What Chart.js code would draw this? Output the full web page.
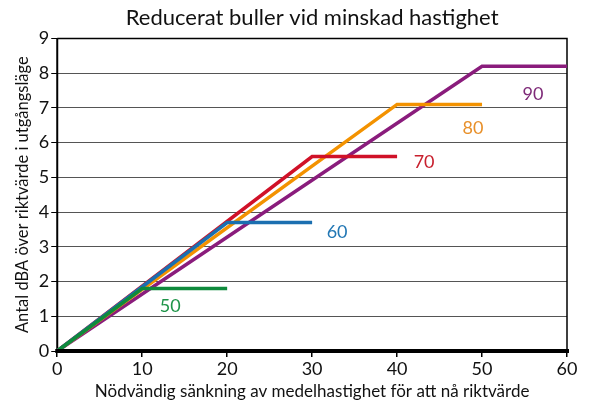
<!DOCTYPE html>
<html>
<head>
<meta charset="utf-8">
<script src="https://cdn.jsdelivr.net/npm/chart.js@4"></script>
<style>
  body { margin: 0; background: #fff; }
  #wrap { width: 589px; height: 410px; }
</style>
</head>
<body>
<div id="wrap"><canvas id="chart" width="589" height="410"></canvas></div>
<script>
// Data
const speeds = ['50', '60', '70', '80', '90'];
const xBreak = [10, 20, 30, 40, 50];      // reduction where the line flattens
const xEnd = [20, 30, 40, 50, 60];        // end of the flat part
const dbaMax = [1.8, 3.7, 5.6, 7.1, 8.2]; // dBA at the flat part
const xTicks = [0, 10, 20, 30, 40, 50, 60];
const yTicks = [0, 1, 2, 3, 4, 5, 6, 7, 8, 9];

// Styling
const colors = ['#0f8a3c', '#1b6fb0', '#d01128', '#f39200', '#8a1c7c'];
const labelColors = ['#1e9448', '#2277b4', '#c8202e', '#e8902a', '#7e2a78'];
// label offsets in pixels from the end of each line
const labelOffsets = [[-57, 18], [25, 10], [27, 6], [-9, 24], [-34, 28]];
const FONT = 'Lato, "Open Sans", sans-serif';

const datasets = speeds.map((s, i) => ({
    label: s,
    data: [{ x: 0, y: 0 }, { x: xBreak[i], y: dbaMax[i] }, { x: xEnd[i], y: dbaMax[i] }],
    borderColor: colors[i],
    borderWidth: 3.5,
    pointRadius: 0,
    tension: 0,
    fill: false,
    clip: false
}));

// Writes the speed label near the end of each line
const lineLabels = {
    id: 'lineLabels',
    afterDatasetsDraw(chart) {
        const ctx = chart.ctx;
        const xs = chart.scales.x, ys = chart.scales.y;
        ctx.save();
        ctx.font = '18px ' + FONT;
        ctx.textAlign = 'center';
        ctx.textBaseline = 'middle';
        speeds.forEach((s, i) => {
            const px = xs.getPixelForValue(xEnd[i]) + labelOffsets[i][0];
            const py = ys.getPixelForValue(dbaMax[i]) + labelOffsets[i][1];
            ctx.fillStyle = labelColors[i];
            ctx.fillText(s, px, py);
        });
        ctx.restore();
    }
};

// Frame: thin top/right border, thick bottom axis
const frame = {
    id: 'frame',
    beforeDatasetsDraw(chart) {
        const a = chart.chartArea, ctx = chart.ctx;
        ctx.save();
        ctx.strokeStyle = '#000';
        ctx.lineWidth = 1.5;
        ctx.beginPath();
        ctx.moveTo(a.left, a.top);
        ctx.lineTo(a.right, a.top);
        ctx.lineTo(a.right, a.bottom);
        ctx.stroke();
        ctx.lineWidth = 2;
        ctx.beginPath();
        ctx.moveTo(a.left, a.top);
        ctx.lineTo(a.left, a.bottom);
        ctx.stroke();
        ctx.restore();
    },
    afterDatasetsDraw(chart) {
        const a = chart.chartArea, ctx = chart.ctx;
        ctx.save();
        ctx.strokeStyle = '#000';
        ctx.lineWidth = 4;
        ctx.beginPath();
        ctx.moveTo(a.left - 2, a.bottom);
        ctx.lineTo(a.right + 2, a.bottom);
        ctx.stroke();
        ctx.restore();
    }
};

new Chart(document.getElementById('chart'), {
    type: 'line',
    data: { datasets: datasets },
    options: {
        responsive: false,
        animation: false,
        devicePixelRatio: 1,
        layout: { padding: { top: 5, right: 22, bottom: 8, left: 13 } },
        plugins: {
            legend: { display: false },
            tooltip: { enabled: false },
            title: {
                display: true,
                fullSize: false,
                text: 'Reducerat buller vid minskad hastighet',
                color: '#111',
                font: { family: FONT, size: 22, weight: 'normal' },
                padding: { top: 0, bottom: 7 }
            }
        },
        scales: {
            x: {
                type: 'linear',
                min: 0,
                max: 60,
                afterBuildTicks: axis => { axis.ticks = xTicks.map(v => ({ value: v })); },
                grid: { display: true, drawOnChartArea: false, drawTicks: true, tickLength: 6, color: '#000', lineWidth: 1.5 },
                border: { display: false },
                ticks: { color: '#111', font: { family: FONT, size: 18 }, padding: 1, maxRotation: 0 },
                title: {
                    display: true,
                    text: 'Nödvändig sänkning av medelhastighet för att nå riktvärde',
                    color: '#111',
                    font: { family: FONT, size: 17 },
                    padding: { top: 1, bottom: 0 }
                }
            },
            y: {
                type: 'linear',
                min: 0,
                max: 9,
                afterBuildTicks: axis => { axis.ticks = yTicks.map(v => ({ value: v })); },
                grid: { color: '#555', lineWidth: 1, tickLength: 6, tickColor: '#000' },
                border: { display: false },
                ticks: { color: '#111', font: { family: FONT, size: 18 }, padding: 2 },
                title: {
                    display: true,
                    text: 'Antal dBA över riktvärde i utgångsläge',
                    color: '#111',
                    font: { family: FONT, size: 16.5 },
                    padding: { top: 0, bottom: 4 }
                }
            }
        }
    },
    plugins: [frame, lineLabels]
});
</script>
</body>
</html>
